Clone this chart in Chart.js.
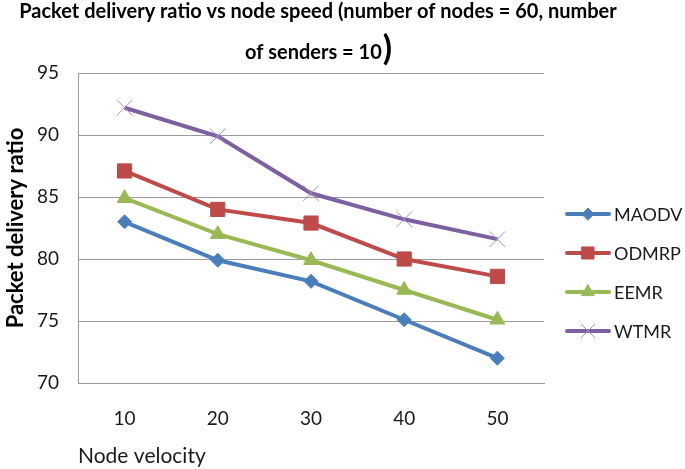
<!DOCTYPE html>
<html><head><meta charset="utf-8">
<script src="https://cdn.jsdelivr.net/npm/chart.js@4/dist/chart.umd.min.js"></script>
<style>html,body{margin:0;padding:0;background:#fff}#wrap{width:685px;height:469px}</style>
</head><body><div id="wrap"><canvas id="c" width="685" height="469"></canvas></div>
<script>
const categories = ['10', '20', '30', '40', '50'];
const seriesNames = ['MAODV', 'ODMRP', 'EEMR', 'WTMR'];
const maodv = [83.0, 79.9, 78.2, 75.1, 72.0];
const odmrp = [87.1, 84.0, 82.9, 80.0, 78.6];
const eemr  = [84.9, 82.0, 79.9, 77.5, 75.1];
const wtmr  = [92.2, 89.9, 85.3, 83.2, 81.6];
const yMin = 70, yMax = 95, yStep = 5;
const titleLine1 = 'Packet delivery ratio vs node speed (number of nodes = 60, number';
const titleLine2 = 'of senders = 10';
const titleParen = ')';
const yTitle = 'Packet delivery ratio';
const xTitle = 'Node velocity';

const FONT = 'Lato, "Open Sans", sans-serif';
const colors = ['#4A7EBB', '#BE4B48', '#98B954', '#7D60A0'];
const styles = [
  {pointStyle: 'rectRot', radius: 7, borderWidth: 1, pColor: '#4A7EBB'},
  {pointStyle: 'rect', radius: 10, borderWidth: 1, pColor: '#BE4B48'},
  {pointStyle: 'triangle', radius: 8.5, borderWidth: 1, pColor: '#98B954'},
  {pointStyle: 'crossRot', radius: 11, borderWidth: 1, pColor: '#A08CC8'}
];
const values = [maodv, odmrp, eemr, wtmr];

const datasets = seriesNames.map((name, i) => ({
  label: name,
  data: values[i],
  borderColor: colors[i],
  backgroundColor: colors[i],
  borderWidth: 4,
  pointStyle: styles[i].pointStyle,
  pointRadius: styles[i].radius,
  pointHoverRadius: styles[i].radius,
  pointBorderWidth: styles[i].borderWidth,
  pointBorderColor: styles[i].pColor,
  pointBackgroundColor: styles[i].pColor,
  tension: 0
}));

const titlePlugin = {
  id: 'customTitle',
  afterDraw(chart) {
    const ctx = chart.ctx;
    ctx.save();
    ctx.fillStyle = '#000';
    ctx.textBaseline = 'middle';
    ctx.font = 'bold 20px ' + FONT;
    ctx.textAlign = 'center';
    ctx.fillText(titleLine1, 318, 12);
    const w2 = ctx.measureText(titleLine2).width;
    ctx.font = 'bold 34px ' + FONT;
    const wp = ctx.measureText(titleParen).width;
    const start = 318 - (w2 + wp) / 2;
    ctx.textAlign = 'left';
    ctx.font = 'bold 20px ' + FONT;
    ctx.fillText(titleLine2, start, 53);
    ctx.font = 'bold 34px ' + FONT;
    ctx.fillText(titleParen, start + w2 + 1, 49);
    ctx.restore();
  }
};

const legendPlugin = {
  id: 'customLegend',
  afterDraw(chart) {
    const ctx = chart.ctx;
    ctx.save();
    chart.data.datasets.forEach((ds, i) => {
      const y = 214 + i * 39;
      ctx.strokeStyle = ds.borderColor;
      ctx.lineWidth = 4;
      ctx.lineCap = 'round';
      ctx.beginPath();
      ctx.moveTo(567, y);
      ctx.lineTo(609, y);
      ctx.stroke();
      ctx.fillStyle = ds.pointBackgroundColor;
      ctx.strokeStyle = ds.pointBorderColor;
      ctx.lineWidth = ds.pointBorderWidth;
      Chart.helpers.drawPoint(ctx, {pointStyle: ds.pointStyle, radius: ds.pointRadius * 0.85, borderWidth: ds.pointBorderWidth, rotation: 0}, 588, y);
      ctx.fillStyle = '#1a1a1a';
      ctx.font = '18px ' + FONT;
      ctx.textBaseline = 'middle';
      ctx.textAlign = 'left';
      ctx.fillText(ds.label, 614, y + 1);
    });
    ctx.restore();
  }
};

new Chart(document.getElementById('c'), {
  type: 'line',
  data: {labels: categories, datasets},
  options: {
    responsive: false,
    animation: false,
    devicePixelRatio: 1,
    layout: {padding: {top: 73, right: 141, left: 0, bottom: 0}},
    plugins: {legend: {display: false}, title: {display: false}, tooltip: {enabled: false}},
    scales: {
      x: {
        offset: true,
        grid: {display: false, drawTicks: false},
        border: {display: true, color: '#9a9a9a', width: 1},
        ticks: {color: '#1a1a1a', font: {family: FONT, size: 19}, padding: 24},
        title: {display: true, text: xTitle, align: 'start', color: '#1a1a1a', font: {family: FONT, size: 21}, padding: {top: 0, bottom: 0}},
        afterFit(s) { s.height = 86; }
      },
      y: {
        min: yMin, max: yMax,
        ticks: {stepSize: yStep, color: '#1a1a1a', font: {family: FONT, size: 19}, padding: 19},
        grid: {color: '#9a9a9a', lineWidth: 1, drawTicks: false},
        border: {display: true, color: '#9a9a9a', width: 1},
        title: {display: true, text: yTitle, color: '#000', font: {family: FONT, size: 22, weight: 'bold'}, padding: {top: 3, bottom: 0}},
        afterFit(s) { s.width = 78; }
      }
    }
  },
  plugins: [titlePlugin, legendPlugin]
});
</script>
</body></html>
